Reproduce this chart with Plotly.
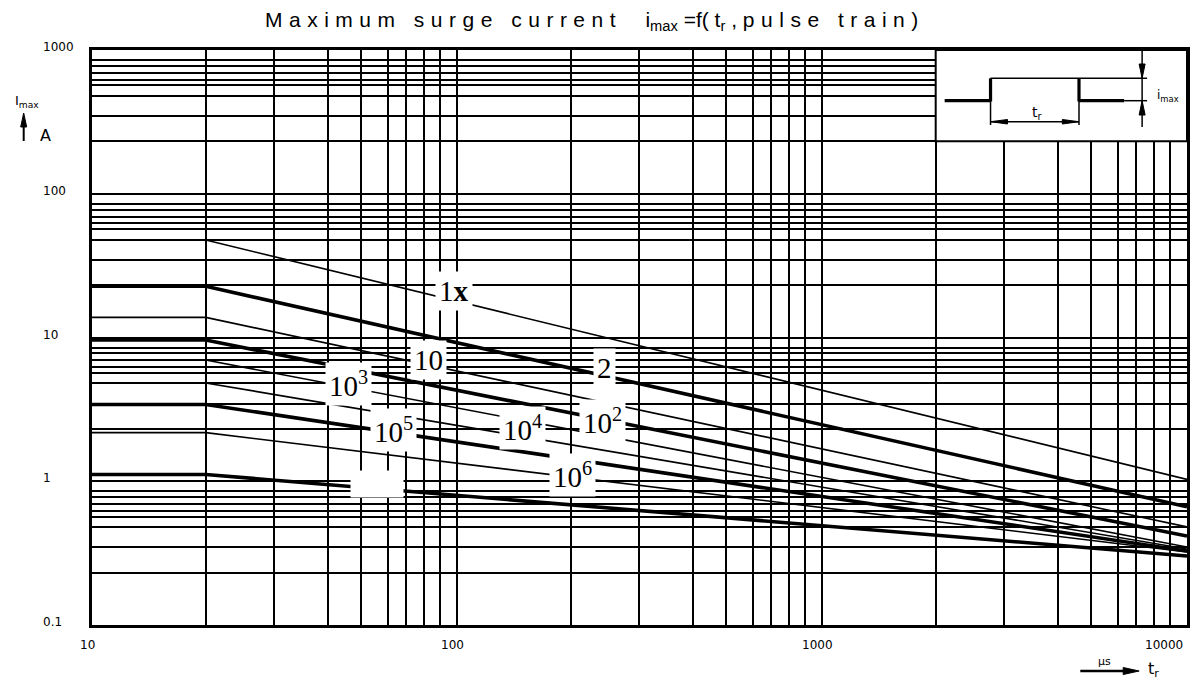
import numpy as np
import plotly.graph_objects as go

# ---------------- data ----------------
t_points = [10, 20.5, 10000]          # pulse duration t_r in µs: plateau start, knee, end
i_1x   = [47.7, 47.7, 1.03]
i_2    = [22.7, 22.7, 0.665]
i_10   = [13.8, 13.8, 0.481]
i_1e2  = [9.6, 9.6, 0.416]
i_1e3  = [6.97, 6.97, 0.349]
i_1e4  = [4.83, 4.83, 0.338]
i_1e5  = [3.42, 3.42, 0.327]
i_1e6  = [2.18, 2.18, 0.322]
i_last = [1.114, 1.114, 0.302]

curve_names  = ["1x", "2", "10", "10^2", "10^3", "10^4", "10^5", "10^6", "blank"]
curve_thick  = [False, True, False, True, False, False, True, False, True]

label_texts = ["1<b>x</b>", "2", "10", "10<sup>2</sup>", "10<sup>3</sup>",
               "10<sup>4</sup>", "10<sup>5</sup>", "10<sup>6</sup>", "&nbsp;"]
label_t = [98.1, 253.8, 83.3, 250.6, 50.4, 151.5, 66.9, 207.5, 60.4]
label_i = [21.1, 6.13, 6.97, 2.62, 4.75, 2.35, 2.27, 1.105, 0.957]

x_major = [10, 100, 1000, 10000]
x_major_text = ["10", "100", "1000", "10000"]
y_major = [0.1, 1, 10, 100, 1000]
y_major_text = ["0.1", "1", "10", "100", "1000"]
x_grid_mantissa = [2.05, 3.16, 4.42, 5.46, 6.49, 7.25, 8.12, 8.98]
y_grid_mantissa = [2.31, 3.47, 4.79, 5.68, 6.22, 6.94, 7.74, 8.52]

# ---------------- layout geometry ----------------
W, H = 1202, 684
PL, PR, PT, PB = 92, 1190, 50, 625


def P(x, y):
    """pixel -> paper coordinates (decorations only)"""
    return (x - PL) / (PR - PL), (PB - y) / (PB - PT)


series = [i_1x, i_2, i_10, i_1e2, i_1e3, i_1e4, i_1e5, i_1e6, i_last]

fig = go.Figure()
for name, vals, thick in zip(curve_names, series, curve_thick):
    fig.add_trace(go.Scatter(x=t_points, y=vals, mode="lines", name=name,
                             line=dict(color="black", width=3.6 if thick else 1.6),
                             showlegend=False, hoverinfo="skip"))

x_minor = [m * d for d in [10, 100, 1000] for m in x_grid_mantissa]
y_minor = [m * d for d in [0.1, 1, 10, 100] for m in y_grid_mantissa]

fig.update_layout(
    width=W, height=H, paper_bgcolor="white", plot_bgcolor="white",
    margin=dict(l=PL, r=W - PR, t=PT, b=H - PB),
    xaxis=dict(type="log", range=[1, 4], tickmode="array", tickvals=x_major,
               showticklabels=False, ticks="", showgrid=True, gridcolor="black",
               gridwidth=2, zeroline=False, showline=True, linecolor="black",
               linewidth=2.5, mirror=True,
               minor=dict(tickmode="array", tickvals=x_minor, showgrid=True,
                          gridcolor="black", gridwidth=1.8, ticks="")),
    yaxis=dict(type="log", range=[-1, 3], tickmode="array", tickvals=y_major,
               showticklabels=False, ticks="", showgrid=True, gridcolor="black",
               gridwidth=2, zeroline=False, showline=True, linecolor="black",
               linewidth=2.5, mirror=True,
               minor=dict(tickmode="array", tickvals=y_minor, showgrid=True,
                          gridcolor="black", gridwidth=2, ticks="")),
)

ann = []
shapes = []
tick_font = dict(family="DejaVu Sans", size=12, color="black")


def text_at(x, y, txt, size, family="DejaVu Sans", xanchor="center"):
    a, b = P(x, y)
    ann.append(dict(x=a, y=b, xref="paper", yref="paper", showarrow=False, text=txt,
                    xanchor=xanchor, yanchor="middle",
                    font=dict(family=family, size=size, color="black")))


# y tick labels (left aligned, like the datasheet)
for v, txt in zip(y_major, y_major_text):
    ann.append(dict(x=P(41, 0)[0], xref="paper", y=np.log10(v), yref="y",
                    text=txt, showarrow=False, xanchor="left", yanchor="middle",
                    yshift=3, font=tick_font))
# x tick labels
for v, txt in zip(x_major, x_major_text):
    last = v == x_major[-1]
    ann.append(dict(x=np.log10(v), xref="x", y=P(0, 645)[1], yref="paper",
                    text=txt, showarrow=False,
                    xanchor="right" if last else "center", yanchor="middle",
                    xshift=-2 if last else -5,
                    font=dict(family="DejaVu Sans", size=12, color="black")))

# curve labels
for txt, tv, iv in zip(label_texts, label_t, label_i):
    blank = txt == "&nbsp;"
    ann.append(dict(x=np.log10(tv), xref="x", y=np.log10(iv), yref="y", text=txt,
                    showarrow=False, bgcolor="white", borderpad=3,
                    xanchor="center", yanchor="middle",
                    width=46 if blank else None, height=20 if blank else None,
                    font=dict(family="Liberation Serif", size=29, color="black")))

# title
text_at(596, 21,
        '<span style="letter-spacing:6.5px">Maximum surge current</span>'
        '&nbsp;&nbsp;&nbsp;&nbsp;i<sub>max</sub> =f( t<sub>r</sub> , '
        '<span style="letter-spacing:6.5px">pulse train)</span>',
        21, family="Liberation Sans")

# y axis title: I_max, arrow, A
text_at(27, 101, "I<sub>max</sub>", 13)
text_at(45, 135, "A", 16)
# x axis title: µs -> t_r
text_at(1107, 661, "µs", 11)
text_at(1156, 669, "t<sub>r</sub>", 16)


def seg(x0, y0, x1, y1, w=1.5):
    a, b = P(x0, y0)
    c, d = P(x1, y1)
    shapes.append(dict(type="line", xref="paper", yref="paper", x0=a, y0=b, x1=c, y1=d,
                       line=dict(color="black", width=w)))


def tri(p1, p2, p3):
    pts = [P(*p) for p in (p1, p2, p3)]
    path = "M {} {} L {} {} L {} {} Z".format(pts[0][0], pts[0][1], pts[1][0], pts[1][1],
                                              pts[2][0], pts[2][1])
    shapes.append(dict(type="path", xref="paper", yref="paper", path=path,
                       fillcolor="black", line=dict(color="black", width=1)))


# axis arrows
seg(23.5, 126, 23.5, 141, 2)
tri((23.5, 113), (20.5, 127), (26.5, 127))
seg(1083, 671, 1128, 671, 2.5)
tri((1142, 671), (1126, 667.5), (1126, 674.5))

# inset box (white, covering the grid)
a, b = P(938, 141.3)
shapes.append(dict(type="rect", xref="paper", yref="paper", x0=a, y0=b, x1=1, y1=1,
                   fillcolor="white", line=dict(color="black", width=2), layer="above"))
# pulse drawing
seg(947, 100.7, 993, 100.7, 3.2)
seg(993, 101.5, 993, 78.3, 3.2)
seg(993, 78.3, 1150, 78.3, 1.5)
seg(1081.7, 78.3, 1081.7, 101.5, 3.2)
seg(1081.7, 100.7, 1127, 100.7, 3.2)
seg(1127, 100.7, 1150, 100.7, 1.5)
# i_max dimension
seg(1145, 51, 1145, 127, 1.5)
tri((1145, 78.3), (1142, 64), (1148, 64))
tri((1145, 100.7), (1142, 115), (1148, 115))
# t_r dimension
seg(993, 101, 993, 125, 1.5)
seg(1081.7, 101, 1081.7, 125, 1.5)
seg(993, 121.7, 1081.7, 121.7, 1.5)
tri((993, 121.7), (1010, 119.5), (1010, 124))
tri((1081.7, 121.7), (1065, 119.5), (1065, 124))
text_at(1040, 113, "t<sub>r</sub>", 14)
text_at(1171, 96, "i<sub>max</sub>", 12)

fig.update_layout(annotations=ann, shapes=shapes)
fig.write_html("out.html", config={"displayModeBar": False},
               post_script="document.body.style.margin='0px';")
